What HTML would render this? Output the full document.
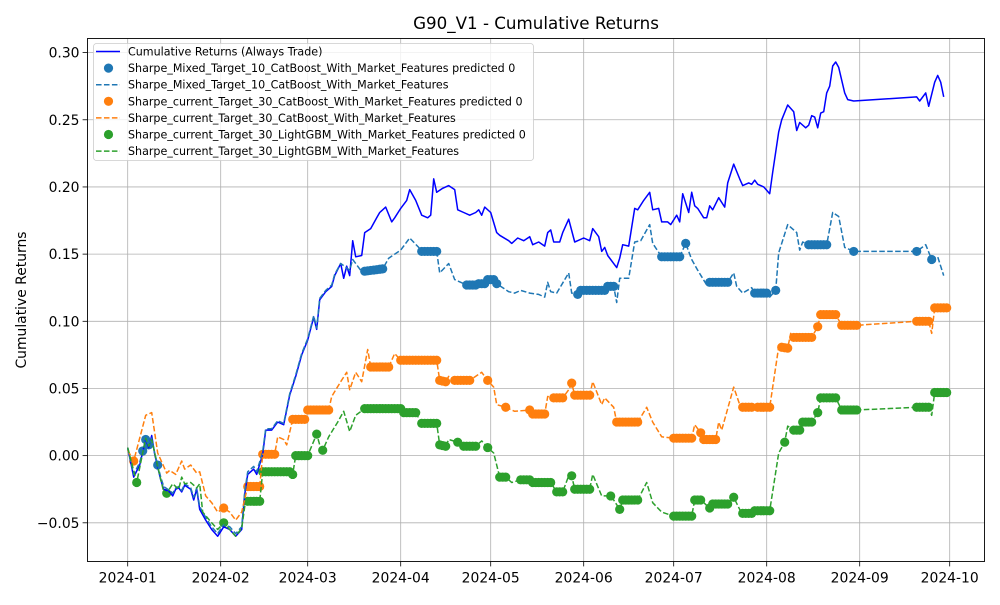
<!DOCTYPE html>
<html><head><meta charset="utf-8"><style>
body{margin:0;background:#fff;}
svg text{font-family:"DejaVu Sans","Liberation Sans",sans-serif;fill:#000;}
</style></head><body>
<svg id="chart" width="1000" height="600" xmlns="http://www.w3.org/2000/svg">
<rect width="1000" height="600" fill="#fff"/>
<g id="grid"></g>
<g id="series"></g>
<rect x="87.5" y="38.5" width="897" height="523" fill="none" stroke="#000" stroke-width="0.9"/>
<g id="axes"></g>
<text x="536" y="29" text-anchor="middle" font-size="16.7">G90_V1 - Cumulative Returns</text>
<text transform="translate(26,300) rotate(-90)" text-anchor="middle" font-size="13.9">Cumulative Returns</text>
<g id="legend"></g>
</svg>
<script>
const monthTickDays=[0,31,60,91,121,152,182,213,244,274];
const monthTickLabels=["2024-01","2024-02","2024-03","2024-04","2024-05","2024-06","2024-07","2024-08","2024-09","2024-10"];
const yTicks=[-0.05,0,0.05,0.10,0.15,0.20,0.25,0.30];
const yTickLabels=["−0.05","0.00","0.05","0.10","0.15","0.20","0.25","0.30"];

const baseDays=[0,2,4,6,7,8,9,11,12,14,15,16,17,18,19,21,22,23,24,26,28,30,32,34,36,38,39,40,42,43,45,46,48,50,52,53,54,56,58,60,62,63,64,66,68,69,71,72,73,74,75,76,78,79,81,83,84,86,88,89,91,93,94,96,98,100,101,102,103,105,107,109,110,112,114,116,117,118,119,121,123,124,127,128,130,132,134,135,137,139,140,141,142,144,145,147,149,150,152,154,155,157,158,159,160,163,164,165,167,169,170,172,174,175,177,178,180,181,183,184,185,187,188,189,190,192,193,194,195,197,199,200,202,204,205,207,208,209,210,212,214,215,217,218,220,222,223,224,226,227,228,229,230,231,232,233,234,235,236,237,239,240,242,263,264,266,267,269,270,271,272];
const baseVals=[0.006,-0.016,-0.007,0.012,0.006,0.015,0.001,-0.018,-0.025,-0.027,-0.030,-0.025,-0.024,-0.027,-0.022,-0.025,-0.033,-0.025,-0.040,-0.048,-0.055,-0.060,-0.053,-0.055,-0.060,-0.055,-0.029,-0.014,-0.010,-0.014,0.001,0.019,0.019,0.025,0.023,0.034,0.045,0.059,0.075,0.086,0.103,0.094,0.116,0.122,0.126,0.134,0.143,0.132,0.141,0.134,0.160,0.148,0.149,0.166,0.169,0.177,0.181,0.185,0.174,0.177,0.184,0.190,0.198,0.190,0.179,0.177,0.179,0.206,0.196,0.199,0.201,0.198,0.183,0.181,0.179,0.181,0.183,0.179,0.185,0.181,0.166,0.164,0.160,0.158,0.162,0.160,0.163,0.157,0.159,0.156,0.166,0.168,0.159,0.159,0.166,0.176,0.159,0.160,0.162,0.160,0.169,0.163,0.152,0.155,0.149,0.140,0.147,0.157,0.156,0.184,0.183,0.190,0.196,0.183,0.184,0.174,0.174,0.172,0.179,0.174,0.195,0.181,0.196,0.186,0.184,0.177,0.177,0.186,0.183,0.192,0.185,0.203,0.217,0.206,0.201,0.203,0.202,0.205,0.202,0.200,0.195,0.211,0.241,0.250,0.261,0.256,0.242,0.248,0.244,0.246,0.253,0.252,0.244,0.255,0.256,0.270,0.275,0.290,0.293,0.289,0.270,0.265,0.264,0.267,0.264,0.270,0.260,0.278,0.283,0.278,0.267];

const mixedDays=[0,2,4,6,7,8,9,11,12,14,15,16,17,18,19,21,22,23,24,26,28,30,32,34,36,38,39,40,42,43,45,46,48,50,52,53,54,56,58,60,62,63,64,66,68,69,71,74,75,78,85,87,91,94,97,98,103,104,107,109,113,116,117,119,120,122,123,127,129,131,134,137,139,140,141,143,147,148,150,151,159,160,162,163,164,167,169,171,174,175,178,184,186,188,190,193,194,200,202,203,205,208,209,213,214,216,217,220,223,224,225,227,233,235,237,239,242,263,266,268,270,272];
const mixedVals=[0.005,-0.014,-0.005,0.012,0.008,0.013,0.002,-0.016,-0.023,-0.026,-0.028,-0.024,-0.023,-0.026,-0.021,-0.024,-0.031,-0.024,-0.038,-0.046,-0.053,-0.058,-0.051,-0.053,-0.058,-0.053,-0.027,-0.012,-0.008,-0.012,0.003,0.020,0.020,0.026,0.024,0.035,0.046,0.060,0.076,0.087,0.104,0.095,0.117,0.123,0.127,0.135,0.143,0.138,0.146,0.137,0.139,0.147,0.153,0.162,0.155,0.152,0.152,0.136,0.143,0.131,0.127,0.127,0.128,0.128,0.131,0.131,0.128,0.122,0.121,0.123,0.121,0.120,0.118,0.129,0.122,0.121,0.136,0.121,0.120,0.123,0.123,0.126,0.126,0.114,0.132,0.132,0.159,0.160,0.172,0.158,0.148,0.148,0.158,0.146,0.138,0.127,0.129,0.129,0.136,0.126,0.121,0.125,0.121,0.121,0.118,0.123,0.151,0.172,0.166,0.153,0.159,0.157,0.157,0.181,0.178,0.155,0.152,0.152,0.157,0.146,0.148,0.134];
const mixedMarkerRuns=[[5,7],[10,10],[79,85],[98,103],[113,123],[150,162],[178,184],[186,186],[194,200],[209,213],[216,216],[227,233],[242,242],[263,263],[268,268]];

const t30cbDays=[0,2,6,8,10,13,14,16,18,19,21,23,24,26,28,30,32,34,36,38,40,44,45,49,50,52,53,55,59,60,67,68,71,73,74,76,78,80,81,87,89,91,103,104,106,107,109,114,118,120,122,123,126,129,134,135,139,140,142,145,147,148,149,154,155,158,159,162,163,170,173,175,178,182,188,189,191,192,196,197,198,202,204,205,208,210,214,217,220,221,222,228,230,231,236,238,243,263,267,268,269,273];
const t30cbVals=[0.004,-0.004,0.030,0.032,0.002,-0.013,-0.011,-0.014,-0.004,-0.010,-0.007,-0.013,-0.012,-0.030,-0.035,-0.042,-0.039,-0.042,-0.048,-0.042,-0.023,-0.023,0.001,0.001,0.014,0.012,0.008,0.027,0.027,0.034,0.034,0.044,0.055,0.062,0.049,0.062,0.055,0.079,0.066,0.066,0.076,0.071,0.071,0.056,0.055,0.059,0.056,0.056,0.062,0.056,0.051,0.038,0.036,0.033,0.034,0.031,0.031,0.044,0.043,0.043,0.049,0.054,0.045,0.045,0.055,0.038,0.043,0.036,0.025,0.025,0.036,0.025,0.014,0.013,0.013,0.023,0.017,0.012,0.012,0.025,0.019,0.051,0.038,0.036,0.036,0.036,0.036,0.081,0.080,0.091,0.088,0.088,0.096,0.105,0.105,0.097,0.097,0.100,0.100,0.091,0.110,0.110];
const t30cbMarkerRuns=[[2,2],[32,32],[40,44],[45,49],[55,59],[60,67],[81,87],[91,103],[104,106],[109,114],[120,120],[126,126],[134,134],[135,139],[142,145],[148,148],[149,154],[163,170],[182,188],[191,191],[192,196],[205,208],[210,214],[218,220],[222,228],[230,230],[231,236],[238,243],[263,267],[269,273]];

const t30lgDays=[0,3,6,7,8,10,12,13,15,17,18,19,21,23,24,25,28,30,32,34,36,38,39,40,44,45,54,55,56,60,63,64,65,67,70,72,74,76,79,91,92,96,98,103,104,106,107,110,112,116,118,120,122,124,126,128,131,134,135,141,143,145,147,148,149,154,155,158,161,162,164,165,170,173,175,178,182,188,189,191,194,195,200,202,204,205,208,209,214,217,219,220,222,224,225,228,230,231,236,238,243,263,267,268,269,273];
const t30lgVals=[0.006,-0.020,0.013,0.007,0.012,-0.008,-0.027,-0.028,-0.021,-0.025,-0.016,-0.021,-0.020,-0.024,-0.021,-0.042,-0.050,-0.055,-0.050,-0.055,-0.060,-0.054,-0.038,-0.034,-0.034,-0.012,-0.012,-0.014,0.000,0.000,0.016,0.008,0.004,0.014,0.025,0.033,0.018,0.030,0.035,0.035,0.032,0.032,0.024,0.024,0.008,0.007,0.012,0.010,0.007,0.007,0.011,0.006,0.002,-0.016,-0.016,-0.020,-0.018,-0.018,-0.020,-0.020,-0.027,-0.027,-0.015,-0.015,-0.025,-0.025,-0.014,-0.030,-0.030,-0.033,-0.040,-0.033,-0.033,-0.020,-0.035,-0.042,-0.045,-0.045,-0.033,-0.033,-0.039,-0.036,-0.036,-0.031,-0.040,-0.043,-0.043,-0.041,-0.041,0.002,0.010,0.022,0.019,0.019,0.025,0.025,0.032,0.043,0.043,0.034,0.034,0.036,0.036,0.030,0.047,0.047];
const t30lgMarkerRuns=[[3,3],[13,13],[32,32],[40,44],[45,54],[55,55],[56,60],[63,63],[65,65],[79,91],[92,96],[98,103],[104,106],[110,110],[112,116],[120,120],[124,126],[131,134],[135,141],[143,145],[148,148],[149,154],[161,161],[164,164],[165,170],[182,188],[189,191],[194,194],[195,200],[202,202],[205,208],[209,214],[219,219],[222,224],[225,228],[230,230],[231,236],[238,243],[263,267],[269,273]];

const NS="http://www.w3.org/2000/svg";
const X0=87.5,X1=984.5,Y0=38.5,Y1=561.5;
const dMin=-13.4,dMax=285.6,vMin=-0.0788,vMax=0.3105;
function xs(d){return X0+(d-dMin)/(dMax-dMin)*(X1-X0);}
function ys(v){return Y1-(v-vMin)/(vMax-vMin)*(Y1-Y0);}
function mk(tag,attrs,parent){const e=document.createElementNS(NS,tag);for(const k in attrs)e.setAttribute(k,attrs[k]);parent.appendChild(e);return e;}
function interp(days,vals,d){for(let i=0;i<days.length-1;i++){if(d>=days[i]&&d<=days[i+1]){const t=(d-days[i])/(days[i+1]-days[i]||1);return vals[i]+t*(vals[i+1]-vals[i]);}}return vals[vals.length-1];}

const grid=document.getElementById('grid'),axes=document.getElementById('axes'),ser=document.getElementById('series'),leg=document.getElementById('legend');
monthTickDays.forEach((d,i)=>{
  const x=xs(d);
  const gl=mk('line',{x1:x,x2:x,y1:Y0,y2:Y1,stroke:'#b0b0b0','stroke-width':0.8},grid);
  
  
  const tk=mk('line',{x1:x,x2:x,y1:Y1,y2:Y1+4.9,stroke:'#000','stroke-width':0.8},axes);
  
  
  const tl=mk('text',{x:x,y:Y1+21,'text-anchor':'middle','font-size':13.9},axes);
  tl.textContent=monthTickLabels[i];
  
  
});
yTicks.forEach((v,i)=>{
  const y=ys(v);
  const gl=mk('line',{x1:X0,x2:X1,y1:y,y2:y,stroke:'#b0b0b0','stroke-width':0.8},grid);
  
  
  const tk=mk('line',{x1:X0-4.9,x2:X0,y1:y,y2:y,stroke:'#000','stroke-width':0.8},axes);
  
  
  const tl=mk('text',{x:X0-8,y:y+5,'text-anchor':'end','font-size':13.9},axes);
  tl.textContent=yTickLabels[i];
  
  
});

function line(days,vals,color,dashed,name){
  const p=days.map((d,i)=>xs(d).toFixed(1)+','+ys(vals[i]).toFixed(1)).join(' ');
  const a={points:p,fill:'none',stroke:color,'stroke-width':1.5,'stroke-linejoin':'round'};
  if(dashed)a['stroke-dasharray']='5.55 2.4';
  const e=mk('polyline',a,ser);
  
  
}
function markers(days,vals,runs,color,name){
  runs.forEach(r=>{for(let d=r[0];d<=r[1];d++){
    const c=mk('circle',{cx:xs(d),cy:ys(interp(days,vals,d)),r:4.6,fill:color},ser);
    
    
  }});
}
markers(mixedDays,mixedVals,mixedMarkerRuns,'#1f77b4','mixed-target10-predicted0-marker');
markers(t30cbDays,t30cbVals,t30cbMarkerRuns,'#ff7f0e','target30-catboost-predicted0-marker');
markers(t30lgDays,t30lgVals,t30lgMarkerRuns,'#2ca02c','target30-lightgbm-predicted0-marker');
line(baseDays,baseVals,'#0000ff',false,'always-trade-line');
line(mixedDays,mixedVals,'#1f77b4',true,'mixed-target10-catboost-line');
line(t30cbDays,t30cbVals,'#ff7f0e',true,'target30-catboost-line');
line(t30lgDays,t30lgVals,'#2ca02c',true,'target30-lightgbm-line');

// legend
const lb=mk('rect',{x:93.5,y:43.5,width:440,height:117,rx:3,fill:'#fff','fill-opacity':0.8,stroke:'#ccc','stroke-width':0.8},leg);


const legLabels=["Cumulative Returns (Always Trade)","Sharpe_Mixed_Target_10_CatBoost_With_Market_Features predicted 0","Sharpe_Mixed_Target_10_CatBoost_With_Market_Features","Sharpe_current_Target_30_CatBoost_With_Market_Features predicted 0","Sharpe_current_Target_30_CatBoost_With_Market_Features","Sharpe_current_Target_30_LightGBM_With_Market_Features predicted 0","Sharpe_current_Target_30_LightGBM_With_Market_Features"];
const legColors=['#0000ff','#1f77b4','#1f77b4','#ff7f0e','#ff7f0e','#2ca02c','#2ca02c'];
const legKinds=['solid','dot','dash','dot','dash','dot','dash'];
legLabels.forEach((t,i)=>{
  const y=51.5+i*16.6;
  let h;
  if(legKinds[i]==='dot'){h=mk('circle',{cx:108.5,cy:y,r:4.6,fill:legColors[i]},leg);}
  else{const a={x1:96,x2:120,y1:y,y2:y,stroke:legColors[i],'stroke-width':1.5};if(legKinds[i]==='dash')a['stroke-dasharray']='5.55 2.4';h=mk('line',a,leg);}
  
  
  const tx=mk('text',{x:128,y:y+4,'font-size':11.1},leg);
  tx.textContent=t;
  
  
});
</script>
</body></html>
